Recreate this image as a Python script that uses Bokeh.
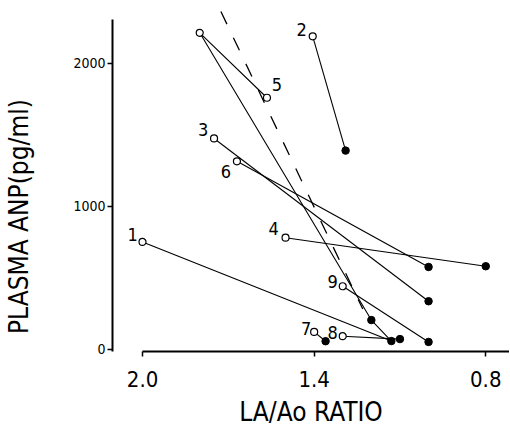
import math
from bokeh.plotting import figure
from bokeh.models import Range1d, FixedTicker, NumeralTickFormatter, ColumnDataSource
from bokeh.core.properties import value
from bokeh.embed import file_html
from bokeh.resources import INLINE

FONT = "DejaVu Sans Condensed"

# ---- data ----
patient = ["1", "2", "3", "4", "5", "6", "7", "8", "9"]
before_ratio = [2.00, 1.405, 1.75, 1.50, 1.565, 1.67, 1.40, 1.30, 1.30]
before_anp = [750, 2190, 1475, 780, 1760, 1315, 120, 90, 440]
after_ratio = [1.13, 1.29, 1.00, 0.80, None, 1.00, 1.36, 1.10, 1.00]
after_anp = [56, 1390, 335, 580, None, 575, 55, 70, 50]

# patient 5: a path with an extra open reading and a later filled reading
p5_ratio = [1.565, 1.80, 1.20, 1.13]
p5_anp = [1760, 2215, 203, 56]
p5_open_ratio = [1.80]
p5_open_anp = [2215]
p5_filled_ratio = [1.20]
p5_filled_anp = [203]

# regression (dashed) line end points
reg_ratio = [1.726, 1.230]
reg_anp = [2364, 280]

x_ticks = [2.0, 1.4, 0.8]
y_ticks = [0, 1000, 2000]

# label offsets (styling, pixels)
lab_dx = [-10, -11, -11, -12, 10, -11, -8, -10, -10]
lab_dy = [-7, -7, -9, -9, -13, 10, -3, -4, -5]

p = figure(width=509, height=430, output_backend="svg", toolbar_location=None,
           x_range=Range1d(2.105, 0.717), y_range=Range1d(-17, 2392),
           min_border_left=112, min_border_right=0, min_border_top=7,
           min_border_bottom=79)
p.outline_line_color = None
p.grid.visible = False
p.background_fill_color = "white"
p.border_fill_color = "white"

# segments
xs, ys = [], []
for i in range(len(patient)):
    if after_ratio[i] is None:
        continue
    xs.append([before_ratio[i], after_ratio[i]])
    ys.append([before_anp[i], after_anp[i]])
xs.append(p5_ratio)
ys.append(p5_anp)
p.multi_line(xs=xs, ys=ys, line_color="black", line_width=1.1)

# regression line
p.line(reg_ratio, reg_anp, line_color="black", line_width=1.3, line_dash="14 15")

# filled points
fx = [v for v in after_ratio if v is not None] + p5_filled_ratio
fy = [v for v in after_anp if v is not None] + p5_filled_anp
p.scatter(fx, fy, size=7.5, marker="circle", fill_color="black", line_color="black")

# open points
ox = before_ratio + p5_open_ratio
oy = before_anp + p5_open_anp
p.scatter(ox, oy, size=7, marker="circle", fill_color="white", line_color="black", line_width=1.2)

# patient numbers
src = ColumnDataSource(dict(x=before_ratio, y=before_anp, t=patient, dx=lab_dx, dy=lab_dy))
p.text(x="x", y="y", text="t", x_offset="dx", y_offset="dy", source=src,
       text_font=value(FONT), text_font_size="18px", text_align="center",
       text_baseline="middle", text_color="black")

# axes
xa = p.xaxis[0]
xa.ticker = FixedTicker(ticks=x_ticks)
xa.formatter = NumeralTickFormatter(format="0.0")
xa.bounds = (0.717, 2.0)
xa.axis_line_width = 2
xa.axis_line_color = "black"
xa.major_tick_line_color = "black"
xa.major_tick_line_width = 1.5
xa.major_tick_out = 5
xa.major_tick_in = 0
xa.minor_tick_out = 0
xa.minor_tick_in = 0
xa.major_label_text_font = FONT
xa.major_label_text_font_size = "22px"
xa.major_label_text_color = "black"
xa.major_label_standoff = 14
xa.axis_label = "LA/Ao RATIO"
xa.axis_label_text_font = FONT
xa.axis_label_text_font_size = "26px"
xa.axis_label_text_font_style = "normal"
xa.axis_label_text_color = "black"
xa.axis_label_standoff = 7

ya = p.yaxis[0]
ya.ticker = FixedTicker(ticks=y_ticks)
ya.formatter = NumeralTickFormatter(format="0")
ya.bounds = (-15, 2308)
ya.axis_line_width = 2
ya.axis_line_color = "black"
ya.major_tick_line_color = "black"
ya.major_tick_line_width = 1.5
ya.major_tick_out = 5
ya.major_tick_in = 0
ya.minor_tick_out = 0
ya.minor_tick_in = 0
ya.major_label_text_font = FONT
ya.major_label_text_font_size = "14px"
ya.major_label_text_color = "black"
ya.major_label_standoff = 2
# trailing no-break spaces shift the centred label toward the bottom, as in the original
ya.axis_label = "PLASMA ANP(pg/ml)" + "\u00a0" * 10
ya.axis_label_text_font = FONT
ya.axis_label_text_font_size = "26px"
ya.axis_label_text_font_style = "normal"
ya.axis_label_text_color = "black"
ya.axis_label_standoff = 36

open("out.html", "w").write(file_html(p, INLINE))
